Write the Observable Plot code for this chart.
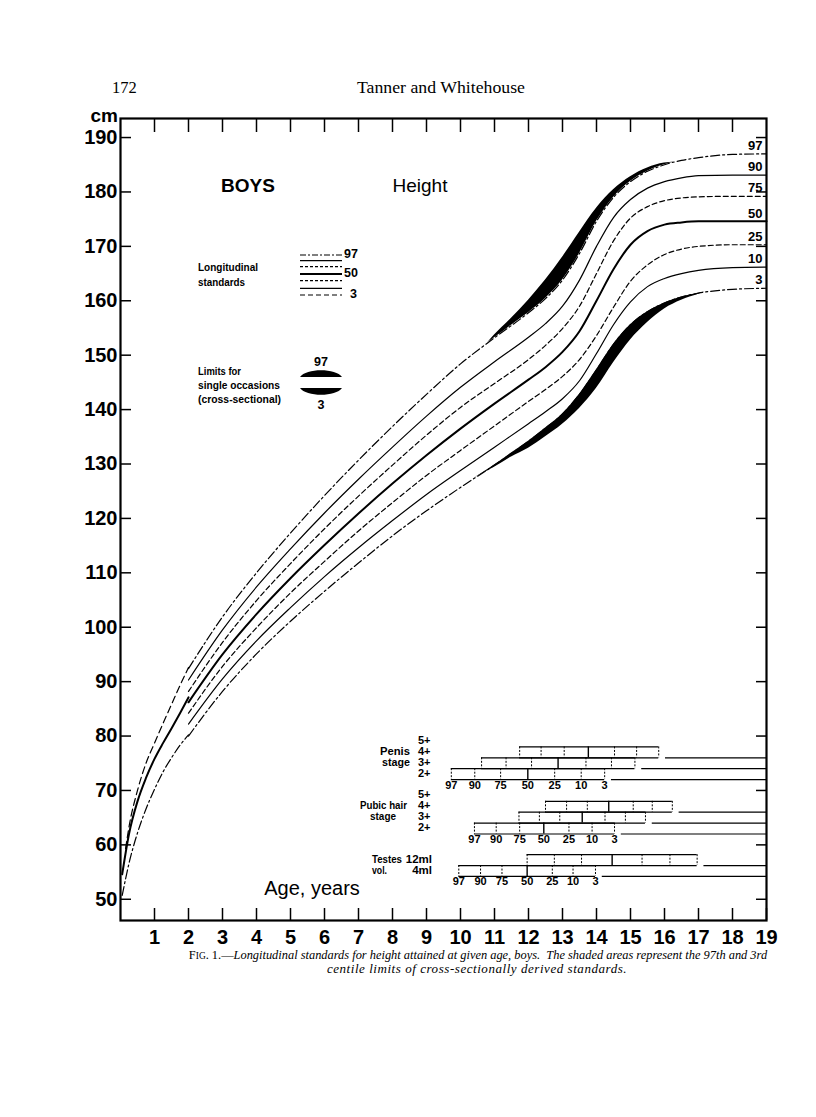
<!DOCTYPE html>
<html><head><meta charset="utf-8">
<script src="https://cdn.jsdelivr.net/npm/d3@7"></script>
<script src="https://cdn.jsdelivr.net/npm/@observablehq/plot@0.6"></script>
<style>
body{margin:0;background:#fff;}
#page{position:relative;width:816px;height:1117px;overflow:hidden;background:#fff;}
#chart{position:absolute;left:0;top:0;}
#overlay{position:absolute;left:0;top:0;}
</style></head>
<body><div id="page"><div id="chart"></div><svg id="overlay" width="816" height="1117"></svg></div>
<script>
// ---------------- DATA ----------------
const xTicks = [1,2,3,4,5,6,7,8,9,10,11,12,13,14,15,16,17,18,19];
const yTicks = [50,60,70,80,90,100,110,120,130,140,150,160,170,180,190];
const centileNames = ["97","90","75","50","25","10","3"];

// Longitudinal standards, age 2-19 (cm)
const ages = [2,3,4,5,6,7,8,9,10,11,12,12.5,13,13.5,14,14.5,15,15.5,16,16.5,17,18,19];
const p97 = [92.4,101.9,110.0,117.3,124.2,130.7,136.9,142.8,148.4,153.2,157.8,160.4,163.8,168.7,174.6,179.0,181.9,183.8,185.0,185.8,186.3,186.9,187.0];
const p90 = [90.3,99.5,107.4,114.4,121.0,127.2,133.1,138.8,144.1,148.8,153.3,155.8,159.0,163.8,170.0,175.3,178.6,180.7,181.9,182.6,183.0,183.1,183.1];
const p75 = [88.2,97.2,104.9,111.7,118.1,124.1,129.8,135.3,140.4,144.8,149.2,151.8,154.9,159.0,165.0,171.0,175.2,177.3,178.4,178.9,179.1,179.2,179.2];
const p50 = [86.2,95.0,102.4,109.0,115.1,120.9,126.4,131.6,136.5,141.1,145.5,147.8,150.6,154.4,160.0,165.8,170.3,172.8,174.0,174.4,174.6,174.6,174.6];
const p25 = [84.2,92.8,99.9,106.3,112.1,117.7,122.9,127.9,132.5,137.0,141.5,143.7,146.1,149.2,153.6,158.8,163.6,166.6,168.5,169.5,170.0,170.3,170.3];
const p10 = [82.2,90.5,97.5,103.6,109.3,114.6,119.6,124.4,128.8,133.1,137.4,139.6,142.0,145.3,150.3,155.6,159.8,162.6,164.1,165.0,165.6,166.1,166.2];
const p3  = [80.0,88.2,95.1,101.1,106.6,111.8,116.8,121.4,125.7,129.8,134.2,136.6,139.2,142.8,147.3,152.0,155.6,158.0,159.6,160.7,161.4,162.1,162.3];

// Infant (supine length) 0-2 years
const infantAges97 = [0.15,0.25,0.5,0.75,1,1.25,1.5,1.75,2];
const inf97 = [59.3,63.3,70.0,75.0,78.7,82.3,85.8,89.3,92.6];
const infantAges = [0.05,0.25,0.5,0.75,1,1.25,1.5,1.75,2];
const inf50 = [54.6,62.0,68.0,72.3,75.8,78.7,81.4,84.2,87.1];
const inf3  = [50.7,56.6,62.2,66.6,70.2,73.4,76.0,78.3,80.2];

// Cross-sectional limits (shaded areas)
const shadeAges97 = [10.8,11,11.5,12,12.5,13,13.5,14,14.5,15,15.5,16,16.3];
const shadeLong97 = [152.3,153.2,155.5,157.8,160.4,163.8,168.7,174.6,179.0,181.9,183.8,185.0,185.5];
const shadeCross97 = [152.3,153.7,156.8,160.1,163.8,168.0,172.6,177.0,180.4,182.8,184.4,185.3,185.5];
const shadeAges3 = [10.4,11,11.5,12,12.5,13,13.5,14,14.5,15,15.5,16,16.5,17,17.2];
const shadeLong3 = [127.4,129.8,132.0,134.2,136.6,139.2,142.8,147.3,152.0,155.6,158.0,159.6,160.7,161.4,161.6];
const shadeCross3 = [127.4,129.4,131.3,132.9,135.0,137.3,140.2,143.9,148.6,152.8,156.0,158.5,160.1,161.2,161.6];

// Puberty: ages at which centiles 97..3 reach each stage
const penis4 = [11.74,12.37,13.05,13.76,14.53,15.18,15.83];
const penis3 = [10.62,11.34,12.09,12.87,13.69,14.44,15.13];
const penis2 = [9.73,10.42,11.18,11.98,12.77,13.55,14.24];
const pubic4 = [12.50,13.12,13.73,14.36,15.08,15.64,16.23];
const pubic3 = [11.72,12.32,12.92,13.58,14.25,14.85,15.44];
const pubic2 = [10.41,11.05,11.74,12.45,13.19,13.87,14.53];
const testes12 = [11.96,12.76,13.56,14.46,15.34,16.16,16.96];
const testes4  = [9.95,10.59,11.22,11.96,12.70,13.31,13.97];

// ---------------- STYLE / LAYOUT ----------------
const SANS = "'Liberation Sans', Arial, Helvetica, sans-serif";
const SERIF = "'Liberation Serif', 'Times New Roman', serif";
const lineStyle = {
  "97": {dash: "9,3,2,3", width: 1.2},
  "90": {dash: null, width: 1.2},
  "75": {dash: "5,3", width: 1.2},
  "50": {dash: null, width: 2.0},
  "25": {dash: "5,3", width: 1.2},
  "10": {dash: null, width: 1.2},
  "3":  {dash: "9,3,2,3", width: 1.2}
};
const longSeries = [["97",p97],["90",p90],["75",p75],["50",p50],["25",p25],["10",p10],["3",p3]];
const infantSeries = [
  {name:"97", a: infantAges97, v: inf97, dash: "7,4", width: 1.2},
  {name:"50", a: infantAges, v: inf50, dash: null, width: 2.0},
  {name:"3",  a: infantAges, v: inf3, dash: "9,3,2,3", width: 1.2}
];
const ROW_H = 2.0, AFTER_GAP = 0.2;
const maturityGroups = [
  {top: 78.0, rows: [{stage:"4+", v:penis4},{stage:"3+", v:penis3},{stage:"2+", v:penis2}]},
  {top: 68.0, rows: [{stage:"4+", v:pubic4},{stage:"3+", v:pubic3},{stage:"2+", v:pubic2}]},
  {top: 58.2, rows: [{stage:"12ml", v:testes12},{stage:"4ml", v:testes4}]}
];
const boxRows = maturityGroups.flatMap(g => g.rows.map((r,i) => ({...r, top: g.top - i*ROW_H, bottom: g.top - (i+1)*ROW_H})));
const dividers = boxRows.flatMap(r => r.v.map((a,j) => ({age: a, top: r.top, bottom: r.bottom, c: centileNames[j]})));
const centileTexts = maturityGroups.flatMap(g => {
  const n = g.rows.length, r = g.rows[n-1], yy = g.top - n*ROW_H - 1.0;
  return r.v.map((a,j) => ({age: a, y: yy, label: centileNames[j]}));
});
const toRows = (a, v) => a.map((x,i) => ({age: x, cm: v[i]}));
const endLabels = longSeries.map(([n,v]) => ({age: ages[ages.length-1], cm: v[v.length-1], label: n}));

const chart = Plot.plot({
  width: 816, height: 945,
  marginLeft: 120, marginRight: 50, marginTop: 118, marginBottom: 25,
  x: {domain: [0, 19]},
  y: {domain: [46.1, 193.5]},
  style: {fontFamily: SANS, background: "transparent", color: "#000", overflow: "visible"},
  marks: [
    Plot.areaY(shadeAges97.map((a,i) => ({age:a, lo: shadeLong97[i], hi: shadeCross97[i]})), {x:"age", y1:"lo", y2:"hi", curve:"monotone-x", fill:"#000"}),
    Plot.areaY(shadeAges3.map((a,i) => ({age:a, lo: shadeCross3[i], hi: shadeLong3[i]})), {x:"age", y1:"lo", y2:"hi", curve:"monotone-x", fill:"#000"}),
    ...longSeries.map(([n, v]) => Plot.line(toRows(ages, v), {x:"age", y:"cm", curve:"monotone-x", stroke:"#000", strokeWidth: lineStyle[n].width, strokeDasharray: lineStyle[n].dash})),
    ...infantSeries.map(s => Plot.line(toRows(s.a, s.v), {x:"age", y:"cm", curve:"monotone-x", stroke:"#000", strokeWidth: s.width, strokeDasharray: s.dash})),
    Plot.text(endLabels, {x:"age", y:"cm", text:"label", textAnchor:"end", dx:-4, dy:-8, fontSize:13, fontWeight:"bold", fontFamily: SANS}),
    Plot.ruleY(boxRows, {y:"top", x1: d => d.v[0], x2: d => d.v[6], strokeWidth: 1.2}),
    Plot.ruleY(boxRows, {y:"bottom", x1: d => d.v[0], x2: d => d.v[6], strokeWidth: 1.2}),
    Plot.ruleY(boxRows, {y:"bottom", x1: d => d.v[6] + AFTER_GAP, x2: 19, strokeWidth: 1.2}),
    Plot.ruleX(dividers.filter(d => d.c !== "50"), {x:"age", y1:"top", y2:"bottom", strokeDasharray:"2,1.5", strokeWidth: 1}),
    Plot.ruleX(dividers.filter(d => d.c === "50"), {x:"age", y1:"top", y2:"bottom", strokeWidth: 1.4}),
    Plot.text(centileTexts, {x:"age", y:"y", text:"label", fontSize: 11, fontWeight:"bold", fontFamily: SANS}),
    Plot.axisX({anchor:"bottom", ticks: xTicks, tickSize: -12, tickPadding: 21, label: null, fontSize: 20, fontWeight: "bold", strokeWidth: 1.5}),
    Plot.axisX({anchor:"top", ticks: xTicks.slice(0,-1), tickSize: -13, tickFormat: () => "", label: null, strokeWidth: 1.5}),
    Plot.axisY({anchor:"left", ticks: yTicks, tickSize: -11, tickPadding: 14, label: null, fontSize: 20, fontWeight: "bold", strokeWidth: 1.5}),
    Plot.axisY({anchor:"right", ticks: yTicks, tickSize: -11, tickFormat: () => "", label: null, strokeWidth: 1.5}),
    Plot.frame({strokeWidth: 2.2})
  ]
});
document.getElementById("chart").appendChild(chart);

// ---------------- OVERLAY TEXT / LEGEND ----------------
const ys = v => chart.scale("y").apply(v);
const ov = d3.select("#overlay");
function txt(x, y, s, o = {}) {
  const t = ov.append("text").attr("x", x).attr("y", y).text(s)
    .attr("font-family", o.family || SANS).attr("font-size", o.size || 12)
    .attr("font-weight", o.weight || "normal").attr("text-anchor", o.anchor || "start")
    .attr("dominant-baseline", o.baseline || "middle").attr("fill", "#000");
  if (o.style) t.attr("font-style", o.style);
  if (o.len) t.attr("textLength", o.len).attr("lengthAdjust", o.adjust || "spacingAndGlyphs");
  if (o.ls) t.attr("letter-spacing", o.ls);
  return t;
}
txt(112, 93, "172", {family: SERIF, size: 16.5, baseline: "alphabetic"});
txt(441, 93, "Tanner and Whitehouse", {family: SERIF, size: 17, anchor: "middle", baseline: "alphabetic", len: 168});
txt(118, 122, "cm", {size: 19, weight: "bold", baseline: "alphabetic", anchor: "end"});
txt(248, 187, "BOYS", {size: 19, weight: "bold", anchor: "middle"});
txt(420, 187, "Height", {size: 19, anchor: "middle"});
txt(312, 890, "Age, years", {size: 20, anchor: "middle"});

// legend: longitudinal
txt(198, 268, "Longitudinal", {size: 11.5, weight: "bold", len: 60});
txt(198, 283, "standards", {size: 11.5, weight: "bold", len: 47});
const legY = [255, 260.7, 266.7, 274, 280.7, 288.3, 295];
const legDash = {"97":"6,2,2,2","90":null,"75":"3,2","50":null,"25":"3,2","10":null,"3":"5,3"};
centileNames.forEach((n, i) => {
  const l = ov.append("line").attr("x1", 300).attr("x2", 342).attr("y1", legY[i]).attr("y2", legY[i])
    .attr("stroke", "#000").attr("stroke-width", n === "50" ? 1.8 : 1.2);
  if (legDash[n]) l.attr("stroke-dasharray", legDash[n]);
});
txt(344, 255, "97", {size: 12.5, weight: "bold"});
txt(344, 274, "50", {size: 12.5, weight: "bold"});
txt(350, 295, "3", {size: 12.5, weight: "bold"});
// legend: cross-sectional
txt(198, 372, "Limits for", {size: 11.5, weight: "bold", len: 43});
txt(198, 386, "single occasions", {size: 11.5, weight: "bold", len: 82});
txt(198, 400, "(cross-sectional)", {size: 11.5, weight: "bold", len: 83});
txt(321, 363, "97", {size: 12.5, weight: "bold", anchor: "middle"});
ov.append("path").attr("d", "M300,377 C306,368 336,368 342,377 Z").attr("fill", "#000");
ov.append("path").attr("d", "M300,388 C306,397 336,397 342,388 Z").attr("fill", "#000");
txt(321, 406, "3", {size: 12.5, weight: "bold", anchor: "middle"});

// puberty labels
const mid = (g, i) => ys(g.top - (i + 0.5) * ROW_H);
const [gP, gH, gT] = maturityGroups;
const LS = {size: 11.5, weight: "bold"};
txt(410, mid(gP, 0), "Penis", {...LS, anchor: "end", len: 30});
txt(410, mid(gP, 1), "stage", {...LS, anchor: "end", len: 28});
["5+","4+","3+","2+"].forEach((s, i) => txt(418, mid(gP, i - 1), s, {size: 11, weight: "bold"}));
txt(407, mid(gH, 0), "Pubic hair", {...LS, anchor: "end", len: 47});
txt(370, mid(gH, 1), "stage", {...LS, len: 26});
["5+","4+","3+","2+"].forEach((s, i) => txt(418, mid(gH, i - 1), s, {size: 11, weight: "bold"}));
txt(372, mid(gT, 0), "Testes", {...LS, len: 30});
txt(372, mid(gT, 1), "vol.", {...LS, len: 15});
txt(432, mid(gT, 0), "12ml", {...LS, anchor: "end"});
txt(432, mid(gT, 1), "4ml", {...LS, anchor: "end"});

// caption
const cap1 = ov.append("text").attr("x", 478).attr("y", 959).attr("text-anchor", "middle")
  .attr("font-family", SERIF).attr("font-size", 12.4)
  .style("white-space", "pre");
cap1.append("tspan").text("F");
cap1.append("tspan").attr("font-size", 9.4).text("IG");
cap1.append("tspan").text(". 1.—");
cap1.append("tspan").attr("font-style", "italic").text("Longitudinal standards for height attained at given age, boys.  The shaded areas represent the 97th and 3rd");
txt(477, 973, "centile limits of cross-sectionally derived standards.", {family: SERIF, size: 13, style: "italic", anchor: "middle", baseline: "alphabetic", ls: 0.55});
</script></body></html>
